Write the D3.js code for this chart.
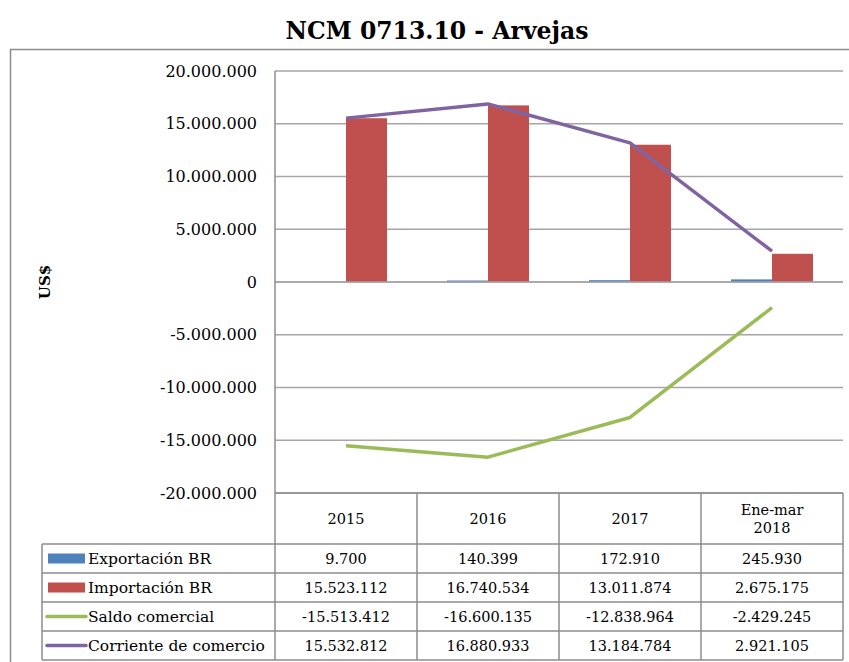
<!DOCTYPE html>
<html lang="es">
<head>
  <meta charset="UTF-8">
  <title>NCM 0713.10 - Arvejas</title>
  <script src="https://d3js.org/d3.v7.min.js"></script>
  <style>
    body { margin: 0; background: #fff; }
    text { font-family: "DejaVu Serif", serif; fill: #000; }
  </style>
</head>
<body>
<script>
  const categories = ["2015", "2016", "2017", "Ene-mar 2018"];
  const categoryLines = [["2015"], ["2016"], ["2017"], ["Ene-mar", "2018"]];
  const exportacion = [9700, 140399, 172910, 245930];
  const importacion = [15523112, 16740534, 13011874, 2675175];
  const saldo = [-15513412, -16600135, -12838964, -2429245];
  const corriente = [15532812, 16880933, 13184784, 2921105];
  const yTicks = [-20000000, -15000000, -10000000, -5000000, 0, 5000000, 10000000, 15000000, 20000000];

  const series = [
    {name: "Exportación BR", values: exportacion, color: "#4f81bd", type: "bar"},
    {name: "Importación BR", values: importacion, color: "#c0504d", type: "bar"},
    {name: "Saldo comercial", values: saldo, color: "#9bbb59", type: "line"},
    {name: "Corriente de comercio", values: corriente, color: "#8064a2", type: "line"}
  ];

  const W = 849, H = 662;
  const plotLeft = 275, plotRight = 843, plotTop = 71, plotBottom = 493;
  const legendLeft = 42;
  const headerH = 51, rowH = 29;

  // number format 20.000.000
  const fmt = d3.formatLocale({decimal: ",", thousands: ".", grouping: [3], currency: ["", ""], minus: "-"}).format(",d");

  const svg = d3.select("body").append("svg")
    .attr("width", W)
    .attr("height", H);

  // outer frame
  svg.append("rect")
    .attr("x", 10.5).attr("y", 49.5)
    .attr("width", W).attr("height", H)
    .attr("fill", "none")
    .attr("stroke", "#8c8c8c")
    .attr("stroke-width", 1.5);

  // title
  svg.append("text")
    .attr("x", 437).attr("y", 39)
    .attr("text-anchor", "middle")
    .style("font-size", "23.5px")
    .style("font-weight", "bold")
    .text("NCM 0713.10 - Arvejas");

  const x = d3.scaleBand()
    .domain(categories)
    .range([plotLeft, plotRight]);

  const y = d3.scaleLinear()
    .domain([-20000000, 20000000])
    .range([plotBottom, plotTop]);

  const barW = 41;
  const xs = d3.scaleBand()
    .domain(["Exportación BR", "Importación BR"])
    .range([x.bandwidth() / 2 - barW, x.bandwidth() / 2 + barW]);

  // gridlines
  svg.append("g")
    .selectAll("line")
    .data(yTicks)
    .join("line")
    .attr("x1", plotLeft).attr("x2", plotRight)
    .attr("y1", d => y(d)).attr("y2", d => y(d))
    .attr("stroke", "#a6a6a6")
    .attr("stroke-width", 1.5);

  // y axis labels
  svg.append("g")
    .selectAll("text")
    .data(yTicks)
    .join("text")
    .attr("x", 257)
    .attr("y", d => y(d))
    .attr("dy", "0.35em")
    .attr("text-anchor", "end")
    .style("font-size", "16px")
    .text(d => fmt(d));

  svg.append("text")
    .attr("transform", "translate(50,282) rotate(-90)")
    .attr("text-anchor", "middle")
    .style("font-size", "15px")
    .style("font-weight", "bold")
    .text("US$");

  // bars
  series.filter(s => s.type === "bar").forEach(s => {
    svg.append("g")
      .selectAll("rect")
      .data(s.values)
      .join("rect")
      .attr("x", (d, i) => x(categories[i]) + xs(s.name))
      .attr("width", xs.bandwidth())
      .attr("y", d => y(Math.max(0, d)))
      .attr("height", d => Math.abs(y(d) - y(0)))
      .attr("fill", s.color);
  });

  // zero line above bars
  svg.append("line")
    .attr("x1", plotLeft).attr("x2", plotRight)
    .attr("y1", y(0)).attr("y2", y(0))
    .attr("stroke", "#a6a6a6")
    .attr("stroke-width", 1.5);

  // lines
  const line = d3.line()
    .x((d, i) => x(categories[i]) + x.bandwidth() / 2)
    .y(d => y(d));

  series.filter(s => s.type === "line").forEach(s => {
    svg.append("path")
      .datum(s.values)
      .attr("fill", "none")
      .attr("stroke", s.color)
      .attr("stroke-width", 3.5)
      .attr("stroke-linejoin", "round")
      .attr("d", line);
  });

  // axis line
  svg.append("line")
    .attr("x1", plotLeft).attr("x2", plotLeft)
    .attr("y1", plotTop).attr("y2", plotBottom)
    .attr("stroke", "#8c8c8c")
    .attr("stroke-width", 1.5);

  // data table
  const tableTop = plotBottom;
  const rowY = i => tableTop + headerH + i * rowH;
  const tableBottom = rowY(series.length);
  const table = svg.append("g");
  const gridColor = "#8c8c8c";

  // vertical lines
  table.selectAll("line.v")
    .data(categories.concat(["end"]))
    .join("line")
    .attr("class", "v")
    .attr("x1", (d, i) => i < categories.length ? x(d) : plotRight)
    .attr("x2", (d, i) => i < categories.length ? x(d) : plotRight)
    .attr("y1", tableTop)
    .attr("y2", tableBottom)
    .attr("stroke", gridColor)
    .attr("stroke-width", 1.5);

  table.append("line")
    .attr("x1", legendLeft).attr("x2", legendLeft)
    .attr("y1", rowY(0)).attr("y2", tableBottom)
    .attr("stroke", gridColor).attr("stroke-width", 1.5);

  // horizontal lines
  table.append("line")
    .attr("x1", plotLeft).attr("x2", plotRight)
    .attr("y1", tableTop).attr("y2", tableTop)
    .attr("stroke", gridColor).attr("stroke-width", 1.5);

  table.selectAll("line.h")
    .data(d3.range(series.length + 1))
    .join("line")
    .attr("class", "h")
    .attr("x1", legendLeft).attr("x2", plotRight)
    .attr("y1", d => rowY(d)).attr("y2", d => rowY(d))
    .attr("stroke", gridColor).attr("stroke-width", 1.5);

  // header
  categoryLines.forEach((lines, i) => {
    const cx = x(categories[i]) + x.bandwidth() / 2;
    const t = table.append("text")
      .attr("x", cx)
      .attr("text-anchor", "middle")
      .style("font-size", "14.5px");
    const midY = tableTop + headerH / 2;
    lines.forEach((l, j) => {
      t.append("tspan")
        .attr("x", cx)
        .attr("y", midY + (j - (lines.length - 1) / 2) * 18)
        .attr("dy", "0.35em")
        .text(l);
    });
  });

  // rows
  series.forEach((s, r) => {
    const cy = rowY(r) + rowH / 2;
    if (s.type === "bar") {
      table.append("rect")
        .attr("x", 48).attr("y", cy - 5)
        .attr("width", 37).attr("height", 10)
        .attr("fill", s.color);
    } else {
      table.append("line")
        .attr("x1", 47).attr("x2", 86)
        .attr("y1", cy).attr("y2", cy)
        .attr("stroke", s.color)
        .attr("stroke-width", 3.5)
        .attr("stroke-linecap", "round");
    }
    table.append("text")
      .attr("x", 88).attr("y", cy)
      .attr("dy", "0.35em")
      .style("font-size", "15.5px")
      .text(s.name);
    table.append("g")
      .selectAll("text")
      .data(s.values)
      .join("text")
      .attr("x", (d, i) => x(categories[i]) + x.bandwidth() / 2)
      .attr("y", cy)
      .attr("dy", "0.35em")
      .attr("text-anchor", "middle")
      .style("font-size", "14.5px")
      .text(d => fmt(d));
  });
</script>
</body>
</html>
